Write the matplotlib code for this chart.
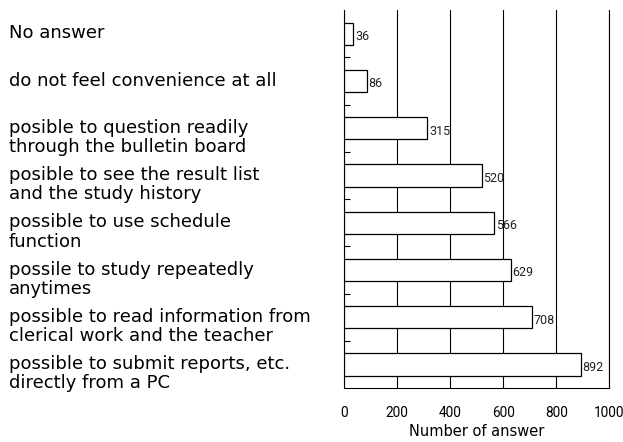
import matplotlib.pyplot as plt
from matplotlib.transforms import blended_transform_factory

plt.rcParams['font.family'] = ['DejaVu Sans']
narrow = ['Roboto', 'DejaVu Sans']

# answers, listed top to bottom
labels = [
    "No answer",
    "do not feel convenience at all",
    "posible to question readily\nthrough the bulletin board",
    "posible to see the result list\nand the study history",
    "possible to use schedule\nfunction",
    "possile to study repeatedly\nanytimes",
    "possible to read information from\nclerical work and the teacher",
    "possible to submit reports, etc.\ndirectly from a PC",
]
counts = [36, 86, 315, 520, 566, 629, 708, 892]
xticks = [0, 200, 400, 600, 800, 1000]

fig = plt.figure(figsize=(6.23, 4.42), dpi=100)
ax = fig.add_axes([0.552, 0.122, 0.426, 0.855])

ypos = list(range(len(counts)))
ax.barh(ypos, counts, height=0.47, color="white", edgecolor="black",
        linewidth=0.9, zorder=3)

for y, v in zip(ypos, counts):
    ax.text(v + 6, y + 0.06, str(v), va="center", ha="left", fontsize=9,
            family=narrow, color="#222222", zorder=4)

ax.set_ylim(len(counts) - 0.5, -0.5)
ax.set_xlim(0, 1000)

# category labels, left aligned at the figure edge,
# first line level with the bar
trans = blended_transform_factory(fig.transFigure, ax.transData)
for y, lab in zip(ypos, labels):
    ax.text(0.014, y - 0.2, lab, transform=trans, ha="left", va="top",
            fontsize=13, linespacing=1.1)

ax.set_yticks([])
ax.set_yticks([i + 0.5 for i in range(len(counts) - 1)], minor=True)
ax.tick_params(axis="y", which="minor", direction="in", length=4, width=0.8)

ax.set_xticks(xticks)
ax.set_xticklabels([str(t) for t in xticks], fontsize=9.8, family=narrow)
ax.tick_params(axis="x", length=0, pad=13)
ax.xaxis.grid(True, color="black", linewidth=0.8, zorder=0)
ax.set_xlabel("Number of answer", fontsize=10.5, labelpad=3)

ax.spines["top"].set_visible(False)
for s in ["left", "bottom", "right"]:
    ax.spines[s].set_linewidth(0.8)

fig.savefig("out.png", dpi=100)
